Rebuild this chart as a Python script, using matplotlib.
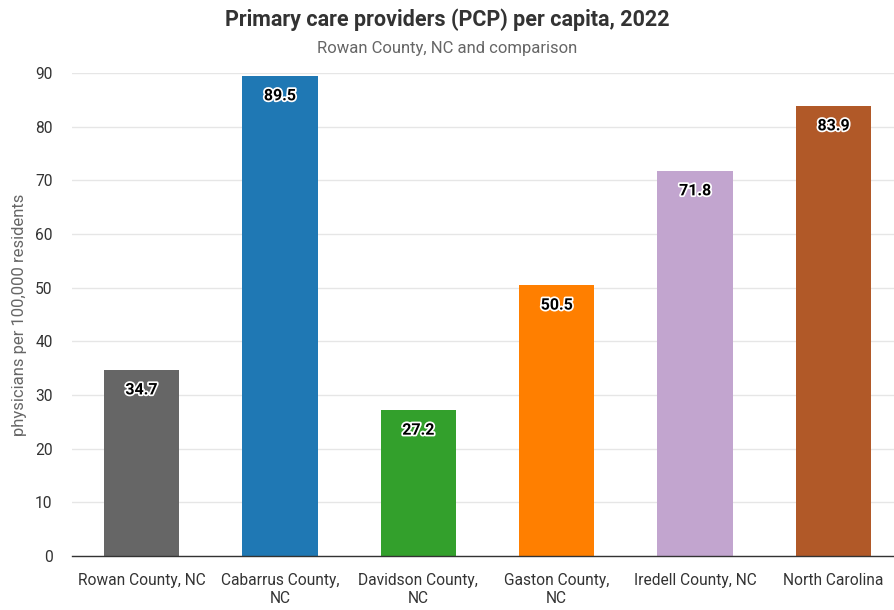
import matplotlib.pyplot as plt
import matplotlib.patheffects as pe

plt.rcParams['font.family'] = ['Roboto', 'DejaVu Sans']

places = ["Rowan County, NC", "Cabarrus County,\nNC", "Davidson County,\nNC",
          "Gaston County,\nNC", "Iredell County, NC", "North Carolina"]
pcp_rate = [34.7, 89.5, 27.2, 50.5, 71.8, 83.9]
bar_colors = ["#666666", "#1f78b4", "#33a02c", "#ff7f00", "#c2a5cf", "#b15928"]
y_ticks = [0, 10, 20, 30, 40, 50, 60, 70, 80, 90]

fig = plt.figure(figsize=(8.94, 6.10), dpi=100)
ax = fig.add_axes([0.0805, 0.0885, 0.9195, 0.7918])

x = range(len(places))
ax.bar(x, pcp_rate, width=0.545, color=bar_colors, zorder=3)

for i, v in enumerate(pcp_rate):
    ax.annotate(f"{v}", (i, v), xytext=(0, -14.5), textcoords="offset points",
                ha="center", va="center", fontsize=11.5, fontweight="bold",
                color="black", zorder=4,
                path_effects=[pe.withStroke(linewidth=2.5, foreground="white")])

ax.set_xlim(-0.502, 5.437)
ax.set_ylim(0, 90)
ax.set_yticks(y_ticks)
ax.set_xticks(list(x))
ax.set_xticklabels(places, fontsize=11.2, color="#333333", linespacing=1.25)
ax.tick_params(axis="y", labelsize=11.2, labelcolor="#333333", length=0, pad=14)
ax.tick_params(axis="x", length=0, pad=12)
ax.grid(axis="y", color="#e6e6e6", linewidth=1, zorder=0)

for side in ["top", "right", "left"]:
    ax.spines[side].set_visible(False)
ax.spines["bottom"].set_color("#333333")
ax.spines["bottom"].set_linewidth(1)
ax.spines["bottom"].set_zorder(5)

ax.set_ylabel("physicians per 100,000 residents", fontsize=12, color="#666666", labelpad=6)

fig.text(0.5, 0.967, "Primary care providers (PCP) per capita, 2022", ha="center", va="center",
         fontsize=15.5, fontweight="bold", color="#333333")
fig.text(0.5, 0.921, "Rowan County, NC and comparison", ha="center", va="center",
         fontsize=12, color="#666666")

fig.savefig("out.png", dpi=100)
